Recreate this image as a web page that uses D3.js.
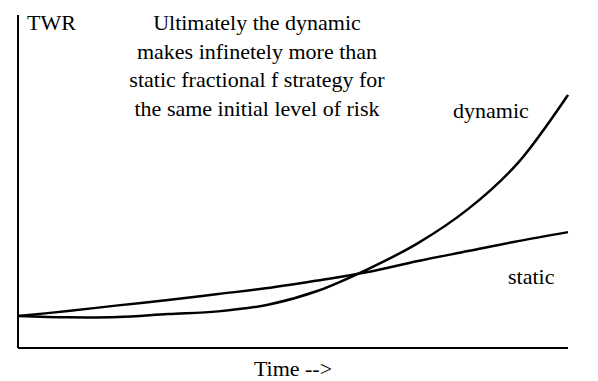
<!DOCTYPE html>
<html>
<head>
<meta charset="utf-8">
<script src="https://cdn.jsdelivr.net/npm/d3@7"></script>
<style>
  @font-face { font-family: "RefSerif"; src: local("Liberation Serif"), local("LiberationSerif"), local("Times New Roman"), local("Tinos"); }
</style>
</head>
<body style="margin:0">
<svg id="chart" width="598" height="381"></svg>
<script>
// Data (arbitrary TWR units)
const time = [0, 1, 2, 3, 4, 5, 6, 7, 8, 9, 10, 11];
const dynamicTWR = [0.96, 0.92, 0.93, 1.02, 1.10, 1.30, 1.72, 2.37, 3.15, 4.17, 5.56, 7.60];
const staticTWR  = [0.96, 1.11, 1.28, 1.44, 1.62, 1.80, 2.03, 2.28, 2.61, 2.91, 3.21, 3.48];
const titleLines = [
  "Ultimately the dynamic",
  "makes infinetely more than",
  "static fractional f strategy for",
  "the same initial level of risk"
];
const yLabel = "TWR";
const xLabel = "Time -->";
const seriesLabels = ["dynamic", "static"];

const svg = d3.select("#chart");
const W = 598, H = 381;
const margin = { left: 18, right: 30, top: 15, bottom: 33 };

const x = d3.scaleLinear().domain([0, 11]).range([margin.left, W - margin.right]);
const y = d3.scaleLinear().domain([0, 10]).range([H - margin.bottom, margin.top]);

const line = d3.line().x((d, i) => x(time[i])).y(d => y(d)).curve(d3.curveCatmullRom.alpha(0.5));

// Axes drawn as plain lines from the scales (no ticks)
svg.append("line")
  .attr("x1", x(0)).attr("x2", x(0)).attr("y1", y(0)).attr("y2", y(10))
  .attr("stroke", "#000").attr("stroke-width", 2);
svg.append("line")
  .attr("x1", x(0)).attr("x2", x(11)).attr("y1", y(0)).attr("y2", y(0))
  .attr("stroke", "#000").attr("stroke-width", 2);

svg.append("path").datum(staticTWR).attr("d", line)
  .attr("fill", "none").attr("stroke", "#000").attr("stroke-width", 2.5);
svg.append("path").datum(dynamicTWR).attr("d", line)
  .attr("fill", "none").attr("stroke", "#000").attr("stroke-width", 2.5);

function label(xp, yp, t, anchor) {
  const el = svg.append("text").attr("x", xp).attr("y", yp)
    .attr("font-size", 22)
    .attr("text-anchor", anchor || "start")
    .text(t);
  el.node().setAttribute("style",
    "font-family: \"Liberation Serif\", RefSerif, \"Times New Roman\", Tinos, serif !important; font-size: 22px;");
  return el;
}
label(27, 30, yLabel);
titleLines.forEach((t, i) => label(257, 30 + i * 28.5, t, "middle"));
label(453, 118, seriesLabels[0]);
label(508, 284, seriesLabels[1]);
label(293, 376, xLabel, "middle");
</script>
</body>
</html>
